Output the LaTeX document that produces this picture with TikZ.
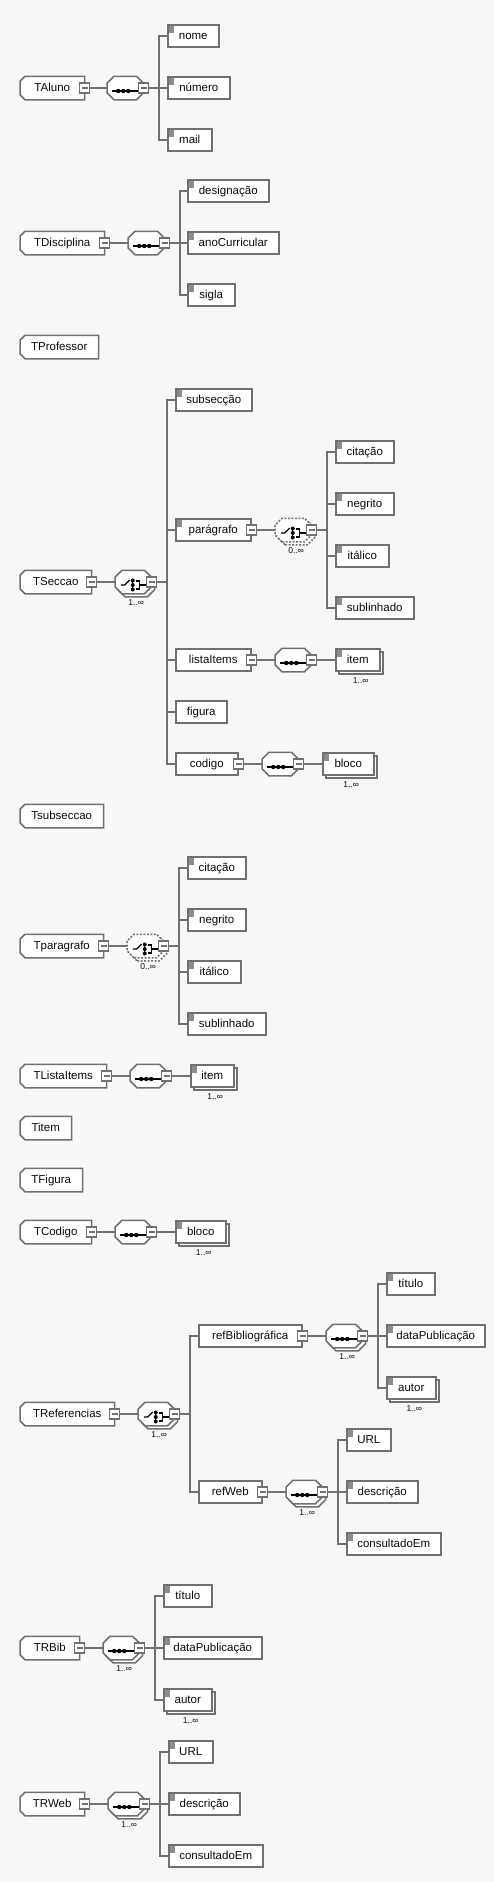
\documentclass[tikz,border=0pt]{standalone}
\usepackage{fontspec}
\setmainfont{Liberation Sans}
\usepackage{tikz}
\usetikzlibrary{shadows}
\definecolor{mygray}{RGB}{112,112,112}
\definecolor{mymark}{RGB}{140,140,140}
\definecolor{myback}{RGB}{247,247,247}
\definecolor{mytext}{RGB}{10,10,10}

% box with cut corners (left only, or both sides)
\makeatletter
\newdimen\cb@l \newdimen\cb@r
\newdimen\cb@xa \newdimen\cb@ya \newdimen\cb@xb \newdimen\cb@yb
\pgfkeys{/pgf/cut left/.initial=0pt, /pgf/cut right/.initial=0pt}
\pgfdeclareshape{cutbox}{%
  \inheritsavedanchors[from=rectangle]%
  \inheritanchorborder[from=rectangle]%
  \inheritanchor[from=rectangle]{center}%
  \inheritanchor[from=rectangle]{north}%
  \inheritanchor[from=rectangle]{south}%
  \inheritanchor[from=rectangle]{east}%
  \inheritanchor[from=rectangle]{west}%
  \backgroundpath{%
    \pgfmathsetlength\cb@l{\pgfkeysvalueof{/pgf/cut left}}%
    \pgfmathsetlength\cb@r{\pgfkeysvalueof{/pgf/cut right}}%
    \southwest\cb@xa=\pgf@x\cb@ya=\pgf@y
    \northeast\cb@xb=\pgf@x\cb@yb=\pgf@y
    \pgfpathmoveto{\pgfqpoint{\dimexpr\cb@xa+\cb@l}{\cb@ya}}%
    \pgfpathlineto{\pgfqpoint{\dimexpr\cb@xb-\cb@r}{\cb@ya}}%
    \pgfpathlineto{\pgfqpoint{\cb@xb}{\dimexpr\cb@ya+\cb@r}}%
    \pgfpathlineto{\pgfqpoint{\cb@xb}{\dimexpr\cb@yb-\cb@r}}%
    \pgfpathlineto{\pgfqpoint{\dimexpr\cb@xb-\cb@r}{\cb@yb}}%
    \pgfpathlineto{\pgfqpoint{\dimexpr\cb@xa+\cb@l}{\cb@yb}}%
    \pgfpathlineto{\pgfqpoint{\cb@xa}{\dimexpr\cb@yb-\cb@l}}%
    \pgfpathlineto{\pgfqpoint{\cb@xa}{\dimexpr\cb@ya+\cb@l}}%
    \pgfpathclose
  }%
}
\makeatother

\tikzset{
  box/.style={draw=mygray, line width=1.5pt, fill=white, inner sep=0pt,
    minimum height=22pt, text height=8.5pt, text depth=2.5pt, anchor=west,
    text=mytext, font=\fontsize{11.5}{13}\selectfont},
  ctype/.style={box, shape=cutbox, cut left=5pt, minimum width=#1},
  elem/.style={box, rectangle, minimum width=#1},
  simple/.style={path picture={
      \fill[mymark] ([shift={(0.5pt,-0.5pt)}]path picture bounding box.north west)
        rectangle ++(6pt,-7pt);}},
  many/.style={copy shadow={shadow xshift=3pt, shadow yshift=-3pt, draw=mygray,
      fill=white, line width=1.5pt, solid}},
  optmany/.style={dash pattern=on 2pt off 1.5pt, copy shadow={shadow xshift=3pt,
      shadow yshift=-3pt, draw=mygray, fill=white, line width=1.5pt,
      dash pattern=on 2pt off 1.5pt}},
  comp/.style={box, shape=cutbox, cut left=7pt, cut right=7pt, minimum width=35pt},
  seq/.style={comp, path picture={
      \begin{scope}[shift={(path picture bounding box.center)}]
        \draw[black, solid, line width=1.2pt] (-13.5pt,0pt) -- (17.5pt,0pt);
        \foreach \d in {-7,-2,3} \fill[black] (\d pt,0pt) circle (2.2pt);
      \end{scope}}},
  choice/.style={comp, path picture={
      \begin{scope}[shift={(path picture bounding box.center)}, black, solid,
          line width=1.1pt]
        \draw (-12.5pt,0pt) -- (-8.5pt,0pt) -- (-3.5pt,5pt);
        \draw[line width=1.4pt] (-0.5pt,4.5pt) -- (-0.5pt,-4.5pt);
        \foreach \d in {-4.5,0,4.5} \fill (-0.5pt,\d pt) circle (2pt);
        \draw (2.5pt,4pt) -- (6.5pt,4pt) -- (6.5pt,-4pt) -- (2.5pt,-4pt);
        \draw (6.5pt,0pt) -- (17.5pt,0pt);
      \end{scope}}},
  minus/.style={draw=mygray, line width=1.2pt, fill=white, minimum size=10pt,
    inner sep=0pt, solid, path picture={\draw[mygray, solid, line width=1.2pt]
      ([xshift=2pt]path picture bounding box.west) --
      ([xshift=-2pt]path picture bounding box.east);}},
  occ/.style={font=\fontsize{8.5}{9}\selectfont, text=mytext, inner sep=1pt,
    xshift=3pt, yshift=-5pt},
  conn/.style={draw=mygray, line width=1.5pt}
}

\begin{document}
\begin{tikzpicture}[x=1pt, y=-1pt]
\fill[myback] (0,0) rectangle (494,1882);

% TAluno
\node[ctype=63pt] (tAluno) at (20,88) {TAluno};
\node[minus] (mAluno) at (tAluno.east) {};
\node[seq] (sAluno) at (107,88) {};
\node[minus] (msAluno) at (sAluno.east) {};
\node[elem=51pt, simple] (nome) at (167,36) {nome};
\node[elem=62pt, simple] (numero) at (167,88) {número};
\node[elem=44pt, simple] (mail) at (167,140) {mail};
\draw[conn] (mAluno) -- (sAluno);
\foreach \c in {nome,numero,mail}
  \draw[conn] (msAluno.east) -- ++(10,0) |- (\c.west);

% TDisciplina
\node[ctype=83pt] (tDisc) at (20,243) {TDisciplina};
\node[minus] (mDisc) at (tDisc.east) {};
\node[seq] (sDisc) at (128,243) {};
\node[minus] (msDisc) at (sDisc.east) {};
\node[elem=81pt, simple] (designacao) at (187,191) {designação};
\node[elem=91pt, simple] (anoCurricular) at (187,243) {anoCurricular};
\node[elem=47pt, simple] (sigla) at (187,295) {sigla};
\draw[conn] (mDisc) -- (sDisc);
\foreach \c in {designacao,anoCurricular,sigla}
  \draw[conn] (msDisc.east) -- ++(10,0) |- (\c.west);

% TProfessor
\node[ctype=77pt] (tProf) at (20,347) {TProfessor};

% TSeccao
\node[ctype=70pt] (tSec) at (20,582) {TSeccao};
\node[minus] (mSec) at (tSec.east) {};
\node[choice, many, label={[occ]below:1..∞}] (cSec) at (115,582) {};
\node[minus] (mcSec) at (cSec.east) {};
\node[elem=76pt, simple] (subseccao) at (175,400) {subsecção};
\node[elem=75pt, simple] (paragrafo) at (175,530) {parágrafo};
\node[minus] (mPar) at (paragrafo.east) {};
\node[elem=75pt] (listaItems) at (175,660) {listaItems};
\node[minus] (mLista) at (listaItems.east) {};
\node[elem=51pt] (figura) at (175,712) {figura};
\node[elem=62pt] (codigo) at (175,764) {codigo};
\node[minus] (mCod) at (codigo.east) {};
\draw[conn] (mSec) -- (cSec);
\foreach \c in {subseccao,paragrafo,listaItems,figura,codigo}
  \draw[conn] (mcSec.east) -- ++(10,0) |- (\c.west);

\node[choice, optmany, label={[occ]below:0..∞}] (cPar) at (275,530) {};
\node[minus] (mcPar) at (cPar.east) {};
\node[elem=58pt, simple] (citacao) at (335,452) {citação};
\node[elem=58pt, simple] (negrito) at (335,504) {negrito};
\node[elem=53pt, simple] (italico) at (335,556) {itálico};
\node[elem=78pt, simple] (sublinhado) at (335,608) {sublinhado};
\draw[conn] (mPar) -- (cPar);
\foreach \c in {citacao,negrito,italico,sublinhado}
  \draw[conn] (mcPar.east) -- ++(10,0) |- (\c.west);

\node[seq] (sLista) at (275,660) {};
\node[minus] (msLista) at (sLista.east) {};
\node[elem=44pt, simple, many, label={[occ]below:1..∞}] (item) at (335,660) {item};
\draw[conn] (mLista) -- (sLista);
\draw[conn] (msLista) -- (item);

\node[seq] (sCod) at (262,764) {};
\node[minus] (msCod) at (sCod.east) {};
\node[elem=51pt, simple, many, label={[occ]below:1..∞}] (bloco) at (322,764) {bloco};
\draw[conn] (mCod) -- (sCod);
\draw[conn] (msCod) -- (bloco);

% Tsubseccao
\node[ctype=82pt] (tSub) at (20,816) {Tsubseccao};

% Tparagrafo
\node[ctype=82pt] (tPar) at (20,946) {Tparagrafo};
\node[minus] (mtPar) at (tPar.east) {};
\node[choice, optmany, label={[occ]below:0..∞}] (ctPar) at (127,946) {};
\node[minus] (mctPar) at (ctPar.east) {};
\node[elem=58pt, simple] (pCitacao) at (187,868) {citação};
\node[elem=58pt, simple] (pNegrito) at (187,920) {negrito};
\node[elem=53pt, simple] (pItalico) at (187,972) {itálico};
\node[elem=78pt, simple] (pSublinhado) at (187,1024) {sublinhado};
\draw[conn] (mtPar) -- (ctPar);
\foreach \c in {pCitacao,pNegrito,pItalico,pSublinhado}
  \draw[conn] (mctPar.east) -- ++(10,0) |- (\c.west);

% TListaItems
\node[ctype=85pt] (tLista) at (20,1076) {TListaItems};
\node[minus] (mtLista) at (tLista.east) {};
\node[seq] (stLista) at (130,1076) {};
\node[minus] (mstLista) at (stLista.east) {};
\node[elem=43pt, simple, many, label={[occ]below:1..∞}] (lItem) at (190,1076) {item};
\draw[conn] (mtLista) -- (stLista);
\draw[conn] (mstLista) -- (lItem);

% Titem, TFigura
\node[ctype=50pt] (tItem) at (20,1128) {Titem};
\node[ctype=61pt] (tFig) at (20,1180) {TFigura};

% TCodigo
\node[ctype=70pt] (tCod) at (20,1232) {TCodigo};
\node[minus] (mtCod) at (tCod.east) {};
\node[seq] (stCod) at (115,1232) {};
\node[minus] (mstCod) at (stCod.east) {};
\node[elem=50pt, simple, many, label={[occ]below:1..∞}] (cBloco) at (175,1232) {bloco};
\draw[conn] (mtCod) -- (stCod);
\draw[conn] (mstCod) -- (cBloco);

% TReferencias
\node[ctype=93pt] (tRef) at (20,1414) {TReferencias};
\node[minus] (mRef) at (tRef.east) {};
\node[choice, many, label={[occ]below:1..∞}] (cRef) at (138,1414) {};
\node[minus] (mcRef) at (cRef.east) {};
\node[elem=103pt] (refBib) at (198,1336) {refBibliográfica};
\node[minus] (mBib) at (refBib.east) {};
\node[elem=63pt] (refWeb) at (198,1492) {refWeb};
\node[minus] (mWeb) at (refWeb.east) {};
\draw[conn] (mRef) -- (cRef);
\foreach \c in {refBib,refWeb}
  \draw[conn] (mcRef.east) -- ++(10,0) |- (\c.west);

\node[seq, many, label={[occ]below:1..∞}] (sBib) at (326,1336) {};
\node[minus] (msBib) at (sBib.east) {};
\node[elem=48pt, simple] (bTitulo) at (386,1284) {título};
\node[elem=98pt, simple] (bData) at (386,1336) {dataPublicação};
\node[elem=49pt, simple, many, label={[occ]below:1..∞}] (bAutor) at (386,1388) {autor};
\draw[conn] (mBib) -- (sBib);
\foreach \c in {bTitulo,bData,bAutor}
  \draw[conn] (msBib.east) -- ++(10,0) |- (\c.west);

\node[seq, many, label={[occ]below:1..∞}] (sWeb) at (286,1492) {};
\node[minus] (msWeb) at (sWeb.east) {};
\node[elem=44pt, simple] (wUrl) at (346,1440) {URL};
\node[elem=71pt, simple] (wDesc) at (346,1492) {descrição};
\node[elem=94pt, simple] (wCons) at (346,1544) {consultadoEm};
\draw[conn] (mWeb) -- (sWeb);
\foreach \c in {wUrl,wDesc,wCons}
  \draw[conn] (msWeb.east) -- ++(10,0) |- (\c.west);

% TRBib
\node[ctype=58pt] (tRBib) at (20,1648) {TRBib};
\node[minus] (mRBib) at (tRBib.east) {};
\node[seq, many, label={[occ]below:1..∞}] (sRBib) at (103,1648) {};
\node[minus] (msRBib) at (sRBib.east) {};
\node[elem=48pt, simple] (rTitulo) at (163,1596) {título};
\node[elem=98pt, simple] (rData) at (163,1648) {dataPublicação};
\node[elem=48pt, simple, many, label={[occ]below:1..∞}] (rAutor) at (163,1700) {autor};
\draw[conn] (mRBib) -- (sRBib);
\foreach \c in {rTitulo,rData,rAutor}
  \draw[conn] (msRBib.east) -- ++(10,0) |- (\c.west);

% TRWeb
\node[ctype=63pt] (tRWeb) at (20,1804) {TRWeb};
\node[minus] (mRWeb) at (tRWeb.east) {};
\node[seq, many, label={[occ]below:1..∞}] (sRWeb) at (108,1804) {};
\node[minus] (msRWeb) at (sRWeb.east) {};
\node[elem=44pt, simple] (rUrl) at (168,1752) {URL};
\node[elem=71pt, simple] (rDesc) at (168,1804) {descrição};
\node[elem=94pt, simple] (rCons) at (168,1856) {consultadoEm};
\draw[conn] (mRWeb) -- (sRWeb);
\foreach \c in {rUrl,rDesc,rCons}
  \draw[conn] (msRWeb.east) -- ++(10,0) |- (\c.west);
\end{tikzpicture}
\end{document}
